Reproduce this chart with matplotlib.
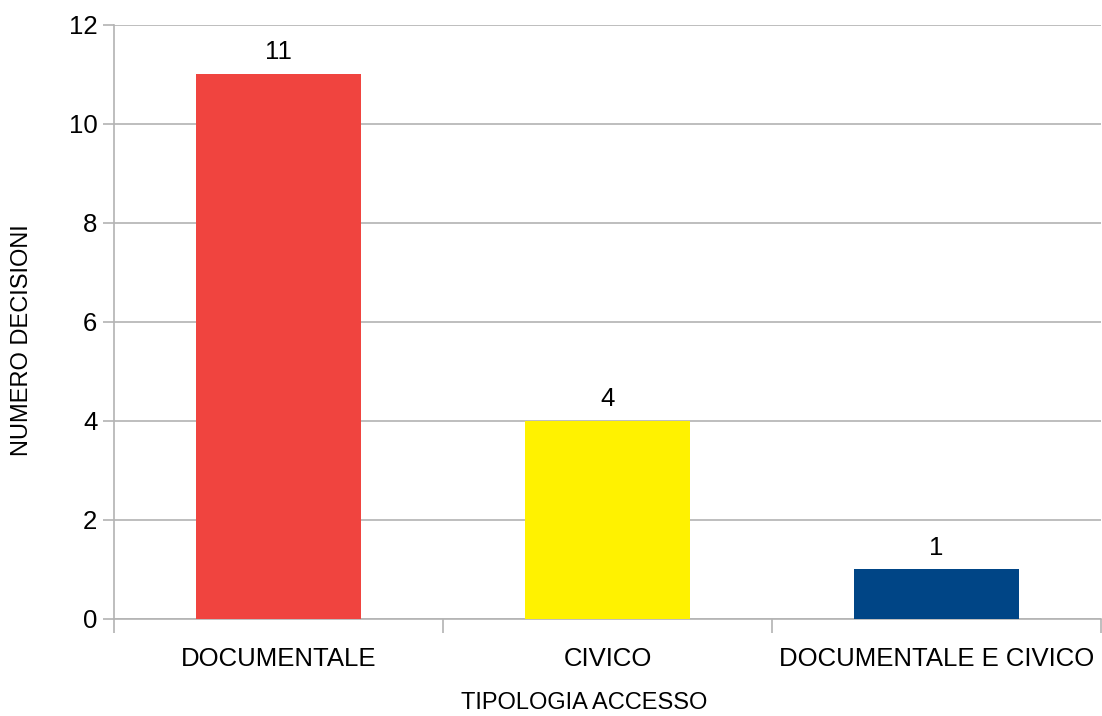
import matplotlib
matplotlib.use('Agg')
import matplotlib.pyplot as plt

categories = ['DOCUMENTALE', 'CIVICO', 'DOCUMENTALE E CIVICO']
values = [11, 4, 1]
colors = ['#F0443F', '#FFF200', '#004586']
yticks = [0, 2, 4, 6, 8, 10, 12]

plt.rcParams['font.family'] = ['Liberation Sans', 'DejaVu Sans']
grid_c = '#b3b3b3'
W, H = 1102, 716

fig = plt.figure(figsize=(W / 100, H / 100), dpi=100)
ax = fig.add_axes([114 / W, 1 - 619 / H, 987 / W, 594.5 / H])

x = list(range(len(categories)))
bars = ax.bar(x, values, width=0.5, color=colors, zorder=3)
for b, v in zip(bars, values):
    ax.text(b.get_x() + b.get_width() / 2, v + 0.2, str(v), ha='center', va='bottom', fontsize=18.5)

ax.set_xlim(-0.5, len(categories) - 0.5)
ax.set_ylim(0, 12)
ax.set_yticks(yticks)
ax.set_xticks(x)
ax.set_xticklabels(categories, fontsize=18.5)
ax.tick_params(axis='x', length=0, pad=20)
ax.set_xticks([i - 0.5 for i in range(len(categories) + 1)], minor=True)
ax.tick_params(axis='x', which='minor', length=10, color=grid_c, width=1.2)
ax.tick_params(axis='y', labelsize=18.5, length=8, color=grid_c, width=1.2, pad=4)
ax.yaxis.grid(True, color=grid_c, linewidth=1.2, zorder=0)
for s in ['top', 'right']:
    ax.spines[s].set_visible(False)
for s in ['left', 'bottom']:
    ax.spines[s].set_color(grid_c)
    ax.spines[s].set_linewidth(1.2)

# axis titles placed where the original puts them
fig.text(584 / W, 1 - 703 / H, 'TIPOLOGIA ACCESSO', fontsize=17, ha='center', va='center')
fig.text(22 / W, 1 - 340 / H, 'NUMERO DECISIONI', fontsize=17, ha='center', va='center', rotation=90)

fig.savefig('out.png', dpi=100)
